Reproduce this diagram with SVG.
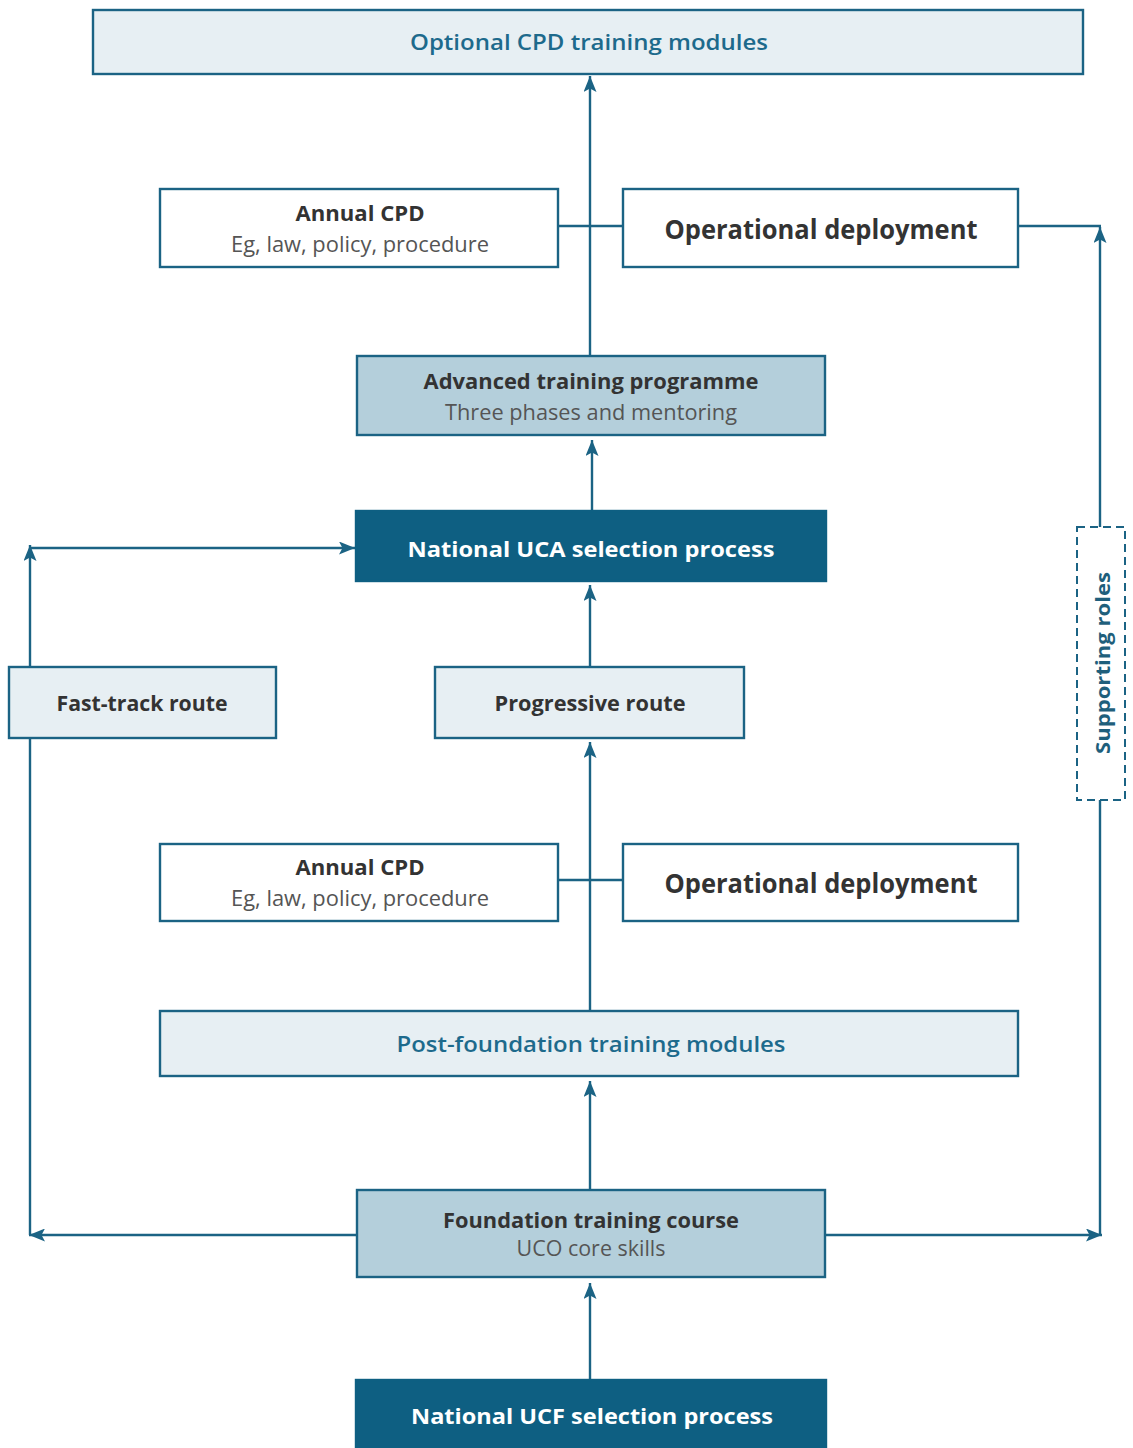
<svg xmlns="http://www.w3.org/2000/svg" width="1133" height="1448" viewBox="0 0 1133 1448">
<defs>
<marker id="ah" viewBox="0 0 16 13" refX="16" refY="6.5" markerWidth="16" markerHeight="13" markerUnits="userSpaceOnUse" orient="auto">
<path d="M0,0 L16,6.5 L0,13 L3.5,6.5 z" fill="#1b6384"/>
</marker>
<style>
.box{stroke:#1b6384;stroke-width:2.4}
.light{fill:#e7eff3}
.mid{fill:#b4cfdb}
.white{fill:#ffffff}
.dark{fill:#0e5f82;stroke:#0e5f82}
.ln{fill:none;stroke:#1b6384;stroke-width:2.4}
text{font-family:"Open Sans","Liberation Sans",sans-serif;text-anchor:middle;dominant-baseline:central}
.teal{fill:#1d6a8c;font-size:22px;font-weight:600}
.b{font-weight:bold;fill:#333333}
.sub{fill:#555555;font-size:21px}
.wt{fill:#ffffff;font-weight:bold;font-size:22px}
</style>
</defs>
<rect width="1133" height="1448" fill="#ffffff"/>
<g id="connectors">
<line class="ln" x1="590" y1="356" x2="590" y2="76" marker-end="url(#ah)"/>
<line class="ln" x1="558" y1="226" x2="623" y2="226"/>
<line class="ln" x1="558" y1="880" x2="623" y2="880"/>
<line class="ln" x1="592" y1="511" x2="592" y2="440" marker-end="url(#ah)"/>
<line class="ln" x1="590" y1="667" x2="590" y2="585" marker-end="url(#ah)"/>
<line class="ln" x1="590" y1="1011" x2="590" y2="742" marker-end="url(#ah)"/>
<line class="ln" x1="590" y1="1190" x2="590" y2="1081" marker-end="url(#ah)"/>
<line class="ln" x1="590" y1="1380" x2="590" y2="1283" marker-end="url(#ah)"/>
<line class="ln" x1="30" y1="667" x2="30" y2="545" marker-end="url(#ah)"/>
<line class="ln" x1="30" y1="548" x2="355" y2="548" marker-end="url(#ah)"/>
<line class="ln" x1="30" y1="738" x2="30" y2="1235"/>
<line class="ln" x1="357" y1="1235" x2="29" y2="1235" marker-end="url(#ah)"/>
<line class="ln" x1="825" y1="1235" x2="1102" y2="1235" marker-end="url(#ah)"/>
<line class="ln" x1="1100" y1="800" x2="1100" y2="1235"/>
<line class="ln" x1="1100" y1="527" x2="1100" y2="227" marker-end="url(#ah)"/>
<line class="ln" x1="1018" y1="226" x2="1101" y2="226"/>
</g>
<g id="optional-cpd">
<rect class="box light" x="93" y="10" width="990" height="64"/>
<text class="teal" x="589" y="41" textLength="358" lengthAdjust="spacingAndGlyphs">Optional CPD training modules</text>
</g>
<g id="annual-cpd-1">
<rect class="box white" x="160" y="189" width="398" height="78"/>
<text class="b" x="360" y="213" font-size="21" textLength="129" lengthAdjust="spacingAndGlyphs">Annual CPD</text>
<text class="sub" x="360" y="244" textLength="258" lengthAdjust="spacingAndGlyphs">Eg, law, policy, procedure</text>
</g>
<g id="op-deploy-1">
<rect class="box white" x="623" y="189" width="395" height="78"/>
<text class="b" x="821" y="229" font-size="26" textLength="313" lengthAdjust="spacingAndGlyphs">Operational deployment</text>
</g>
<g id="advanced">
<rect class="box mid" x="357" y="356" width="468" height="79"/>
<text class="b" x="591" y="381" font-size="21" textLength="335" lengthAdjust="spacingAndGlyphs">Advanced training programme</text>
<text class="sub" x="591" y="412" textLength="292" lengthAdjust="spacingAndGlyphs">Three phases and mentoring</text>
</g>
<g id="uca">
<rect class="box dark" x="356" y="511" width="470" height="70"/>
<text class="wt" x="591" y="548" textLength="367" lengthAdjust="spacingAndGlyphs">National UCA selection process</text>
</g>
<g id="fast-track">
<rect class="box light" x="9" y="667" width="267" height="71"/>
<text class="b" x="142" y="703" font-size="21" textLength="171" lengthAdjust="spacingAndGlyphs">Fast-track route</text>
</g>
<g id="progressive">
<rect class="box light" x="435" y="667" width="309" height="71"/>
<text class="b" x="590" y="703" font-size="21" textLength="191" lengthAdjust="spacingAndGlyphs">Progressive route</text>
</g>
<g id="supporting">
<rect x="1077" y="527" width="48" height="273" fill="#ffffff" stroke="#1b6384" stroke-width="2" stroke-dasharray="8,5"/>
<text x="1103" y="663" font-size="19" font-weight="bold" fill="#1f5f7c" transform="rotate(-90 1103 663)" textLength="182" lengthAdjust="spacingAndGlyphs">Supporting roles</text>
</g>
<g id="annual-cpd-2">
<rect class="box white" x="160" y="844" width="398" height="77"/>
<text class="b" x="360" y="867" font-size="21" textLength="129" lengthAdjust="spacingAndGlyphs">Annual CPD</text>
<text class="sub" x="360" y="898" textLength="258" lengthAdjust="spacingAndGlyphs">Eg, law, policy, procedure</text>
</g>
<g id="op-deploy-2">
<rect class="box white" x="623" y="844" width="395" height="77"/>
<text class="b" x="821" y="883" font-size="26" textLength="313" lengthAdjust="spacingAndGlyphs">Operational deployment</text>
</g>
<g id="post-foundation">
<rect class="box light" x="160" y="1011" width="858" height="65"/>
<text class="teal" x="591" y="1043" textLength="389" lengthAdjust="spacingAndGlyphs">Post-foundation training modules</text>
</g>
<g id="foundation">
<rect class="box mid" x="357" y="1190" width="468" height="87"/>
<text class="b" x="591" y="1220" font-size="21" textLength="296" lengthAdjust="spacingAndGlyphs">Foundation training course</text>
<text class="sub" x="591" y="1248" textLength="149" lengthAdjust="spacingAndGlyphs">UCO core skills</text>
</g>
<g id="ucf">
<rect class="box dark" x="356" y="1380" width="470" height="70"/>
<text class="wt" x="592" y="1415" textLength="362" lengthAdjust="spacingAndGlyphs">National UCF selection process</text>
</g>
</svg>
